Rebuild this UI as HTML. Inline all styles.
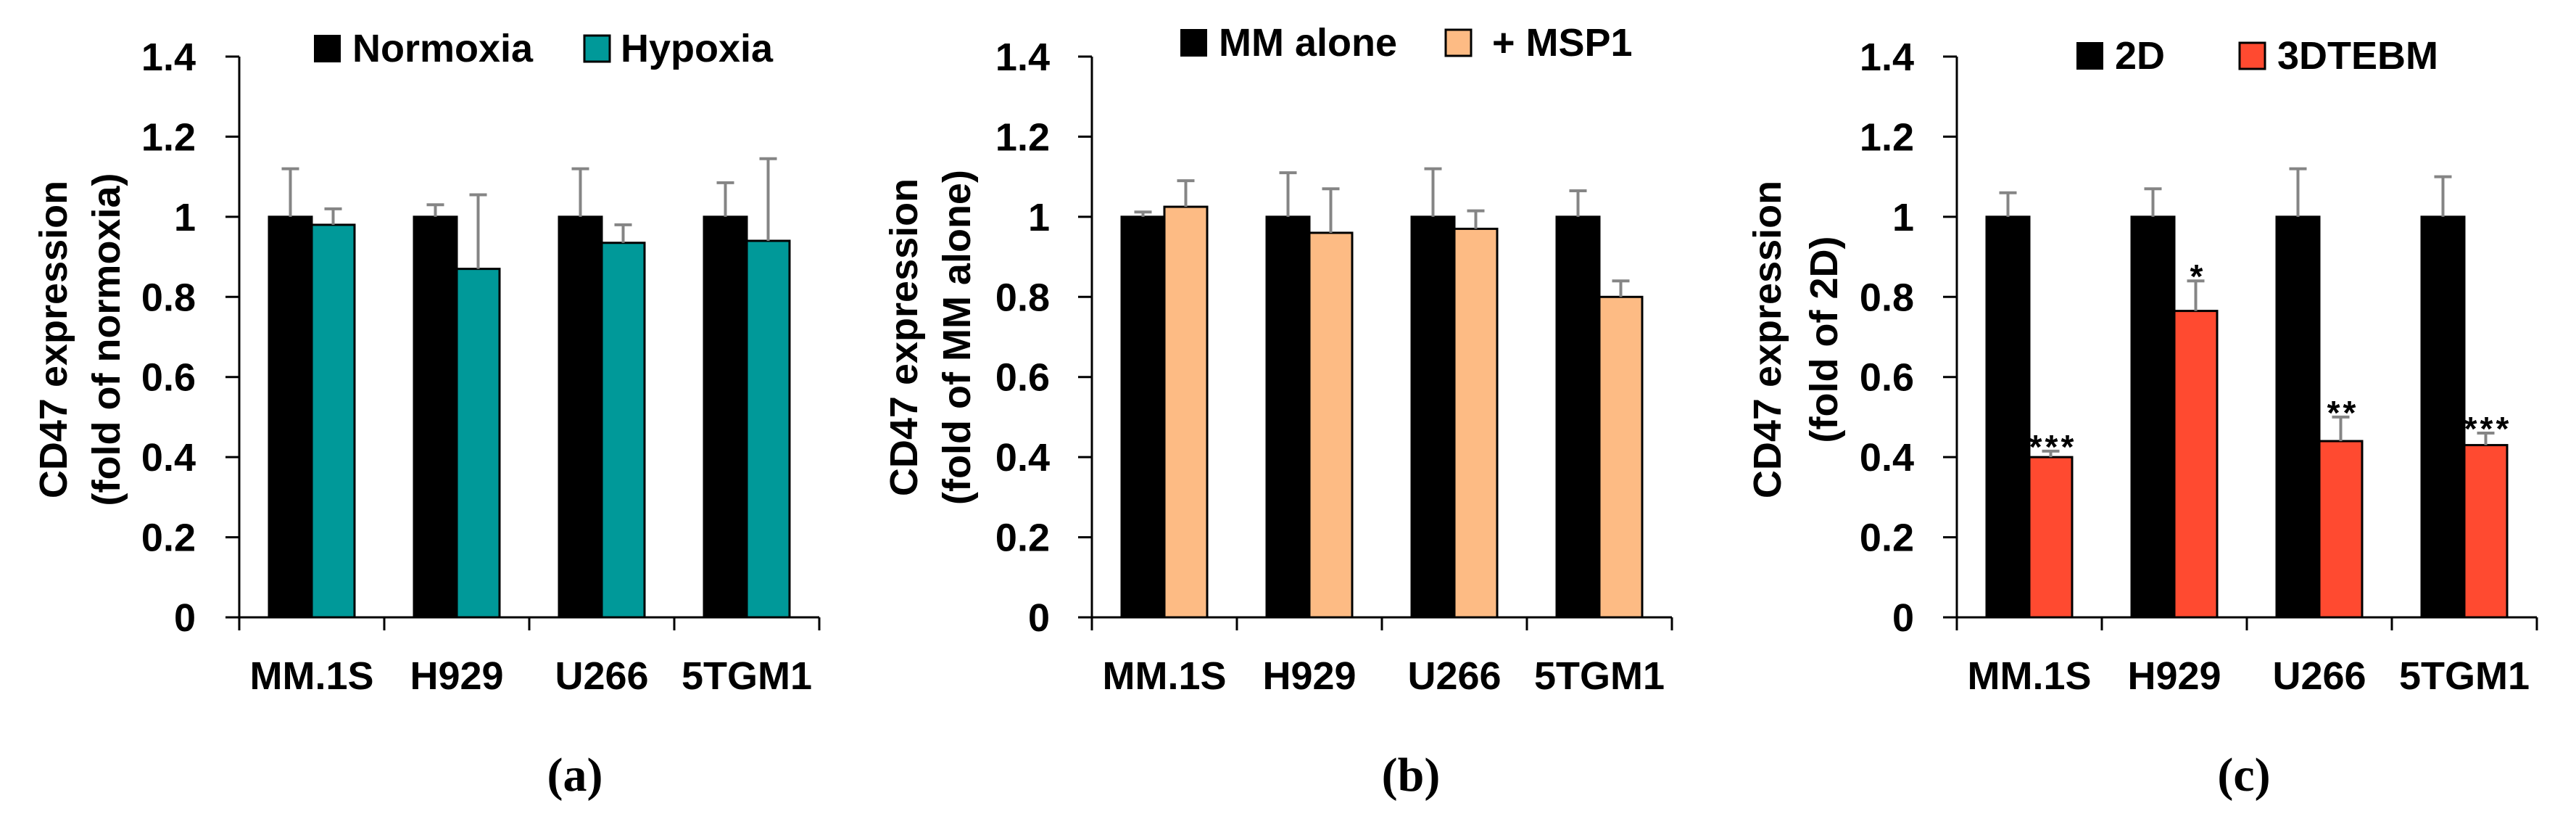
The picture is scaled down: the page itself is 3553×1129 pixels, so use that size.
<!DOCTYPE html>
<html><head><meta charset="utf-8">
<style>
html,body{margin:0;padding:0;background:#fff;}
svg{display:block;font-family:"Liberation Sans",sans-serif;}
</style></head>
<body>
<svg id="fig" width="3553" height="1129" viewBox="0 0 3553 1129" xmlns="http://www.w3.org/2000/svg"></svg>
<script>
const categories = ["MM.1S","H929","U266","5TGM1"];
const yTicks = [0,0.2,0.4,0.6,0.8,1,1.2,1.4];
const yTickLabels = ["0","0.2","0.4","0.6","0.8","1","1.2","1.4"];

const aSeries1 = [1,1,1,1];
const aErr1 = [0.12,0.03,0.12,0.085];
const aSeries2 = [0.98,0.87,0.935,0.94];
const aErr2 = [0.04,0.185,0.045,0.205];

const bSeries1 = [1,1,1,1];
const bErr1 = [0.012,0.11,0.12,0.065];
const bSeries2 = [1.025,0.96,0.97,0.80];
const bErr2 = [0.065,0.11,0.045,0.04];

const cSeries1 = [1,1,1,1];
const cErr1 = [0.06,0.07,0.12,0.10];
const cSeries2 = [0.40,0.765,0.44,0.43];
const cErr2 = [0.015,0.075,0.06,0.03];
const cSig = ["***","*","**","***"];

const NS="http://www.w3.org/2000/svg";
const svg=document.getElementById('fig');
function mk(tag,attrs,parent){const e=document.createElementNS(NS,tag);for(const k in attrs)e.setAttribute(k,attrs[k]);(parent||svg).appendChild(e);return e;}

function panel(cfg){
  const g=mk('g',{});
  
  
  const ax=cfg.axisX, y0=851, y1=78, catW=200;
  const yS=v=>y0-(v/1.4)*(y0-y1);
  const xC=i=>ax+i*catW;
  const yl=mk('line',{x1:ax,y1:y1,x2:ax,y2:y0,stroke:'#000','stroke-width':3},g);
  
  
  yTicks.forEach((t,i)=>{
    mk('line',{x1:ax-19,y1:yS(t),x2:ax,y2:yS(t),stroke:'#000','stroke-width':3},g);
    const tx=mk('text',{x:cfg.tickRight,y:yS(t)+19,'text-anchor':'end','font-size':54,'font-weight':'bold',fill:'#000'},g);
    tx.textContent=yTickLabels[i];
    
    
  });
  const xl=mk('line',{x1:ax-19,y1:y0,x2:xC(4),y2:y0,stroke:'#000','stroke-width':3},g);
  
  
  for(let i=0;i<=4;i++) mk('line',{x1:xC(i),y1:y0,x2:xC(i),y2:y0+18,stroke:'#000','stroke-width':3},g);
  categories.forEach((c,i)=>{
    const t=mk('text',{x:xC(i)+catW/2,y:950,'text-anchor':'middle','font-size':54,'font-weight':'bold',fill:'#000'},g);
    t.textContent=c;
    
    
  });
  const bw=59, off=41;
  const series=[[cfg.v1,cfg.e1,'#000',cfg.n1],[cfg.v2,cfg.e2,cfg.color2,cfg.n2]];
  categories.forEach((c,i)=>{
    series.forEach((s,k)=>{
      const x=xC(i)+off+k*bw;
      const v=s[0][i], e=s[1][i];
      const r=mk('rect',{x:x,y:yS(v),width:bw,height:y0-yS(v),fill:s[2],stroke:'#000','stroke-width':3},g);
      
      
      const cx=x+bw/2;
      mk('line',{x1:cx,y1:yS(v),x2:cx,y2:yS(v+e),stroke:'#858585','stroke-width':4},g);
      mk('line',{x1:cx-12,y1:yS(v+e),x2:cx+12,y2:yS(v+e),stroke:'#858585','stroke-width':4},g);
      if(k===1 && cfg.sig){
        const st=mk('text',{x:cx+3,y:yS(v+e)+10,'text-anchor':'middle','font-size':46,'font-weight':'bold','letter-spacing':4,fill:'#000'},g);
        st.textContent=cfg.sig[i];
        
        
      }
    });
  });
  const tt=mk('text',{transform:`translate(${cfg.t1},${cfg.tc}) rotate(-90)`,'text-anchor':'middle','font-size':54,'font-weight':'bold',fill:'#000'},g);
  tt.textContent='CD47 expression';
  
  
  const tt2=mk('text',{transform:`translate(${cfg.t2},${cfg.tc}) rotate(-90)`,'text-anchor':'middle','font-size':54,'font-weight':'bold',fill:'#000'},g);
  tt2.textContent=cfg.sub;
  
  
  const L=cfg.leg;
  const l1=mk('rect',{x:L.x1,y:L.y,width:35,height:36,fill:'#000',stroke:'#000','stroke-width':2},g);
  
  
  const lt1=mk('text',{x:L.x1+52,y:L.y+36,'font-size':54,'font-weight':'bold',fill:'#000'},g);
  lt1.textContent=cfg.n1;
  
  
  const l2=mk('rect',{x:L.x2,y:L.y,width:35,height:36,fill:cfg.color2,stroke:'#000','stroke-width':3},g);
  
  
  const lt2=mk('text',{x:L.x2+L.gap2,y:L.y+36,'font-size':54,'font-weight':'bold',fill:'#000'},g);
  lt2.textContent=cfg.n2;
  
  
  const pl=mk('text',{x:cfg.labelX,y:1090,'text-anchor':'middle','font-size':66,'font-weight':'bold','font-family':'Liberation Serif, serif',fill:'#000'},g);
  pl.textContent=cfg.label;
  
  
}

panel({id:'panel-a',axisX:330,tickRight:270,v1:aSeries1,e1:aErr1,v2:aSeries2,e2:aErr2,color2:'#009999',
  n1:'Normoxia',n2:'Hypoxia',sub:'(fold of normoxia)',t1:92,t2:165,tc:468,
  leg:{x1:434,x2:806,y:49,gap2:50},label:'(a)',labelX:793});
panel({id:'panel-b',axisX:1506,tickRight:1448,v1:bSeries1,e1:bErr1,v2:bSeries2,e2:bErr2,color2:'#FDBB84',
  n1:'MM alone',n2:'+ MSP1',sub:'(fold of MM alone)',t1:1265,t2:1338,tc:465,
  leg:{x1:1629,x2:1994,y:41,gap2:64},label:'(b)',labelX:1946});
panel({id:'panel-c',axisX:2699,tickRight:2640,v1:cSeries1,e1:cErr1,v2:cSeries2,e2:cErr2,color2:'#FF4A30',sig:cSig,
  n1:'2D',n2:'3DTEBM',sub:'(fold of 2D)',t1:2456,t2:2534,tc:468,
  leg:{x1:2865,x2:3089,y:59,gap2:52},label:'(c)',labelX:3095});
</script>
</body></html>
